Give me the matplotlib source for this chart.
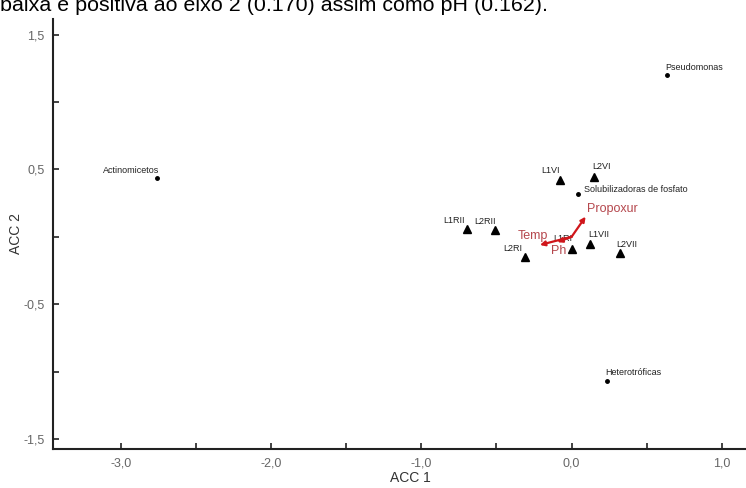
import numpy as np
import matplotlib.pyplot as plt
from matplotlib.ticker import MultipleLocator, FuncFormatter

plt.rcParams['font.family'] = ['Liberation Sans', 'DejaVu Sans']

# amostras (triangulos)
sites = ["L1VI", "L2VI", "L1RII", "L2RII", "L2RI", "L1RI", "L1VII", "L2VII"]
site_x = [-0.074, 0.148, -0.693, -0.511, -0.311, 0.004, 0.119, 0.321]
site_y = [0.421, 0.446, 0.058, 0.050, -0.152, -0.090, -0.053, -0.122]

# grupos microbianos (pontos)
species = ["Actinomicetos", "Pseudomonas", "Heterotróficas", "Solubilizadoras de fosfato"]
species_x = [-2.76, 0.632, 0.233, 0.040]
species_y = [0.436, 1.200, -1.068, 0.315]

# variaveis ambientais (setas)
env = ["Propoxur", "Temp", "Ph"]
env_x = [0.093, -0.211, -0.095]
env_y = [0.149, -0.061, -0.040]

# deslocamento dos rotulos em pixels
site_off = [(-10, 10), (8, 10), (-13, 8), (-10, 9), (-12, 9), (-9, 10), (9, 9), (7, 9)]
species_off = [(-26, 8), (27, 8), (27, 8), (58, 5)]
env_off = [(27, 8), (-7, 9), (1, -9)]

fig = plt.figure(figsize=(7.46, 4.88), dpi=100)
ax = fig.add_axes([53 / 746, 1 - 449 / 488, 1 - 53 / 746, (449 - 19) / 488])

ax.plot(site_x, site_y, '^', color='black', markersize=5.5, linestyle='none')
for s, x, y, off in zip(sites, site_x, site_y, site_off):
    ax.annotate(s, (x, y), xytext=off, textcoords='offset pixels',
                ha='center', va='center', fontsize=6.5, color='#222222')

ax.plot(species_x, species_y, 'o', color='black', markersize=2.5, linestyle='none')
for s, x, y, off in zip(species, species_x, species_y, species_off):
    ax.annotate(s, (x, y), xytext=off, textcoords='offset pixels',
                ha='center', va='center', fontsize=6.5, color='#222222')

for s, x, y, off in zip(env, env_x, env_y, env_off):
    ax.annotate('', xy=(x, y), xytext=(0, 0),
                arrowprops=dict(arrowstyle='-|>', color='#d0161b', lw=1.6,
                                mutation_scale=7, shrinkA=0, shrinkB=0))
    ax.annotate(s, (x, y), xytext=off, textcoords='offset pixels',
                ha='center', va='center', fontsize=9, color='#b5474d')

ax.set_xlim(-3.45, 1.16)
ax.set_ylim(-1.575, 1.616)

ax.xaxis.set_major_locator(MultipleLocator(0.5))
ax.yaxis.set_major_locator(MultipleLocator(0.5))


def fmt_x(v, pos):
    if abs(v - round(v)) < 1e-6:
        return f"{v:.1f}".replace('.', ',')
    return ''


def fmt_y(v, pos):
    if abs(abs(v) % 1 - 0.5) < 1e-6:
        return f"{v:.1f}".replace('.', ',')
    return ''


ax.xaxis.set_major_formatter(FuncFormatter(fmt_x))
ax.yaxis.set_major_formatter(FuncFormatter(fmt_y))
ax.tick_params(direction='in', length=4, width=1.2, colors='#222222',
               labelcolor='#666666', labelsize=9, pad=6)

for side in ['top', 'right']:
    ax.spines[side].set_visible(False)
for side in ['left', 'bottom']:
    ax.spines[side].set_linewidth(1.5)
    ax.spines[side].set_color('#222222')

ax.set_xlabel("ACC 1", fontsize=10, color='#333333')
ax.set_ylabel("ACC 2", fontsize=10, color='#333333')
ax.xaxis.set_label_coords(0.515, -0.05)
ax.yaxis.set_label_coords(-0.043, 0.5)

# texto cortado do topo
fig.text(0.0, 1 - 11 / 488, "baixa e positiva ao eixo 2 (0.170) assim como pH (0.162).",
         ha='left', va='baseline', fontsize=15.4, color='black')

fig.savefig("out.png", dpi=100)
